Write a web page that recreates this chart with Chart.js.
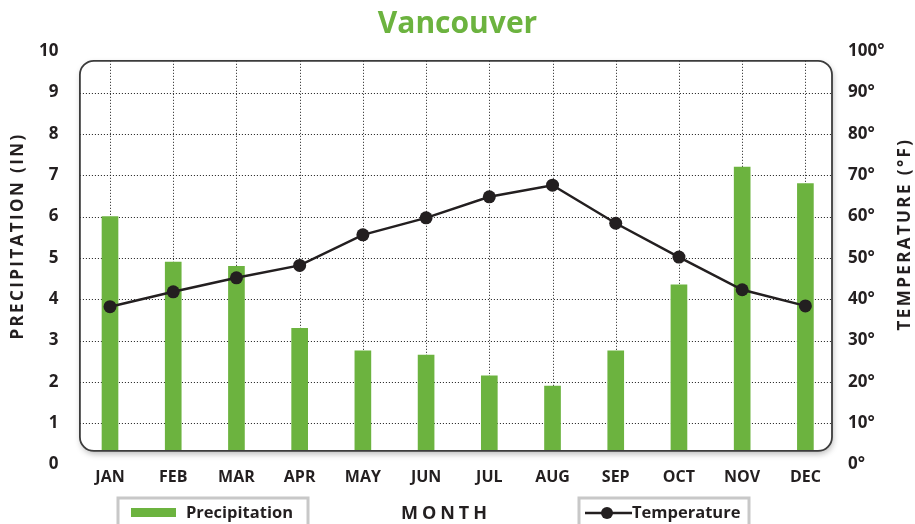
<!DOCTYPE html>
<html>
<head>
<meta charset="utf-8">
<title>Vancouver</title>
<script src="https://cdn.jsdelivr.net/npm/chart.js@4"></script>
<style>
  body { margin: 0; background: #fff; }
</style>
</head>
<body>
<canvas id="climateChart" width="915" height="524"></canvas>
<script>
const months = ["JAN", "FEB", "MAR", "APR", "MAY", "JUN", "JUL", "AUG", "SEP", "OCT", "NOV", "DEC"];
const precipitation = [6.0, 4.9, 4.8, 3.3, 2.75, 2.65, 2.15, 1.9, 2.75, 4.35, 7.2, 6.8];
const temperature = [38.2, 41.8, 45.2, 48.2, 55.6, 59.7, 64.8, 67.6, 58.4, 50.2, 42.3, 38.4];

const GREEN = "#6cb33f";
const INK = "#231f20";

Chart.defaults.font.family = "'Open Sans', sans-serif";

function boxRect(chart) {
  const ca = chart.chartArea;
  const y = chart.scales.y;
  return {
    left: ca.left + 1.5,
    right: ca.right - 5,
    top: y.getPixelForValue(9.77),
    bottom: y.getPixelForValue(0.33)
  };
}

function roundPath(ctx, b, r) {
  ctx.beginPath();
  ctx.roundRect(b.left, b.top, b.right - b.left, b.bottom - b.top, r);
}

// rounded frame, dotted grid, titles and the split legend
const framePlugin = {
  id: "frame",
  beforeDatasetsDraw(chart) {
    const { ctx, scales: { x, y } } = chart;
    const b = boxRect(chart);
    ctx.save();
    ctx.save();
    ctx.shadowColor = "rgba(0,0,0,0.28)";
    ctx.shadowBlur = 6;
    ctx.shadowOffsetY = 3;
    ctx.shadowOffsetX = 1;
    roundPath(ctx, b, 14);
    ctx.fillStyle = "#fff";
    ctx.fill();
    ctx.restore();
    roundPath(ctx, b, 14);
    ctx.clip();
    ctx.lineWidth = 1;
    ctx.strokeStyle = "#1a1a1a";
    ctx.setLineDash([1, 2]);
    y.ticks.forEach(t => {
      const py = Math.round(y.getPixelForValue(t.value)) + 0.5;
      ctx.beginPath();
      ctx.moveTo(b.left, py);
      ctx.lineTo(b.right, py);
      ctx.stroke();
    });
    x.ticks.forEach((t, i) => {
      const px = Math.round(x.getPixelForTick(i)) + 0.5;
      ctx.beginPath();
      ctx.moveTo(px, b.top);
      ctx.lineTo(px, b.bottom);
      ctx.stroke();
    });
    ctx.setLineDash([]);
    // clip stays on while datasets draw
  },
  afterDatasetsDraw(chart) {
    const ctx = chart.ctx;
    ctx.restore();
    const b = boxRect(chart);
    ctx.save();
    ctx.lineWidth = 1.8;
    ctx.strokeStyle = "#3c3c3c";
    roundPath(ctx, b, 14);
    ctx.stroke();
    ctx.restore();
  },
  afterDraw(chart) {
    const ctx = chart.ctx;
    const ds = chart.data.datasets;
    ctx.save();
    ctx.fillStyle = INK;
    ctx.textBaseline = "middle";

    // axis titles
    ctx.font = "bold 17px 'Open Sans', sans-serif";
    ctx.letterSpacing = "2.4px";
    ctx.textAlign = "center";
    [[18, 236, "PRECIPITATION (IN)"], [905, 234, "TEMPERATURE (°F)"]].forEach(([tx, ty, txt]) => {
      ctx.save();
      ctx.translate(tx, ty);
      ctx.rotate(-Math.PI / 2);
      ctx.fillText(txt, 0, 0);
      ctx.restore();
    });

    ctx.font = "bold 18px 'Open Sans', sans-serif";
    ctx.letterSpacing = "4px";
    ctx.fillText("MONTH", 446, 514);
    ctx.letterSpacing = "0px";

    // legend boxes
    ctx.strokeStyle = "#c8c8c8";
    ctx.lineWidth = 3;
    ctx.strokeRect(118, 498, 190, 40);
    ctx.strokeRect(579, 498, 170, 40);

    ctx.font = "bold 16.5px 'Open Sans', sans-serif";
    ctx.textAlign = "left";
    ctx.fillStyle = ds[0].backgroundColor;
    ctx.fillRect(131, 508, 45, 9);
    ctx.fillStyle = INK;
    ctx.fillText(ds[0].label, 186, 513);

    ctx.strokeStyle = ds[1].borderColor;
    ctx.lineWidth = 2.5;
    ctx.beginPath();
    ctx.moveTo(585, 513);
    ctx.lineTo(632, 513);
    ctx.stroke();
    ctx.fillStyle = ds[1].pointBackgroundColor;
    ctx.beginPath();
    ctx.arc(607, 513, 6, 0, Math.PI * 2);
    ctx.fill();
    ctx.fillStyle = INK;
    ctx.fillText(ds[1].label, 632, 513);
    ctx.restore();
  }
};

new Chart(document.getElementById("climateChart"), {
  data: {
    labels: months,
    datasets: [
      {
        type: "bar",
        label: "Precipitation",
        data: precipitation,
        backgroundColor: GREEN,
        barThickness: 16,
        yAxisID: "y",
        order: 2
      },
      {
        type: "line",
        label: "Temperature",
        data: temperature,
        borderColor: INK,
        borderWidth: 2.5,
        pointRadius: 6.5,
        pointBackgroundColor: INK,
        pointBorderWidth: 0,
        tension: 0,
        yAxisID: "y1",
        order: 1
      }
    ]
  },
  options: {
    responsive: false,
    animation: false,
    layout: { padding: 0 },
    plugins: {
      legend: { display: false },
      tooltip: { enabled: false },
      title: {
        display: true,
        text: "Vancouver",
        color: GREEN,
        font: { size: 30, weight: "bold" },
        padding: { top: 6, bottom: 9.3 }
      }
    },
    scales: {
      x: {
        offset: true,
        grid: { display: false, drawTicks: false },
        border: { display: false },
        ticks: { color: INK, padding: 3, font: { size: 16, weight: "bold" } },
        afterFit(scale) { scale.height = 59.4; }
      },
      y: {
        position: "left",
        min: 0,
        max: 10,
        grid: { display: false, drawTicks: false },
        border: { display: false },
        ticks: { stepSize: 1, color: INK, padding: 20, font: { size: 17, weight: "bold" } },
        afterFit(scale) { scale.width = 78.4; }
      },
      y1: {
        position: "right",
        min: 0,
        max: 100,
        grid: { display: false, drawTicks: false },
        border: { display: false },
        ticks: {
          stepSize: 10,
          color: INK,
          padding: 11,
          font: { size: 17, weight: "bold" },
          callback: v => v + "°"
        },
        afterFit(scale) { scale.width = 78; }
      }
    }
  },
  plugins: [framePlugin]
});
</script>
</body>
</html>
